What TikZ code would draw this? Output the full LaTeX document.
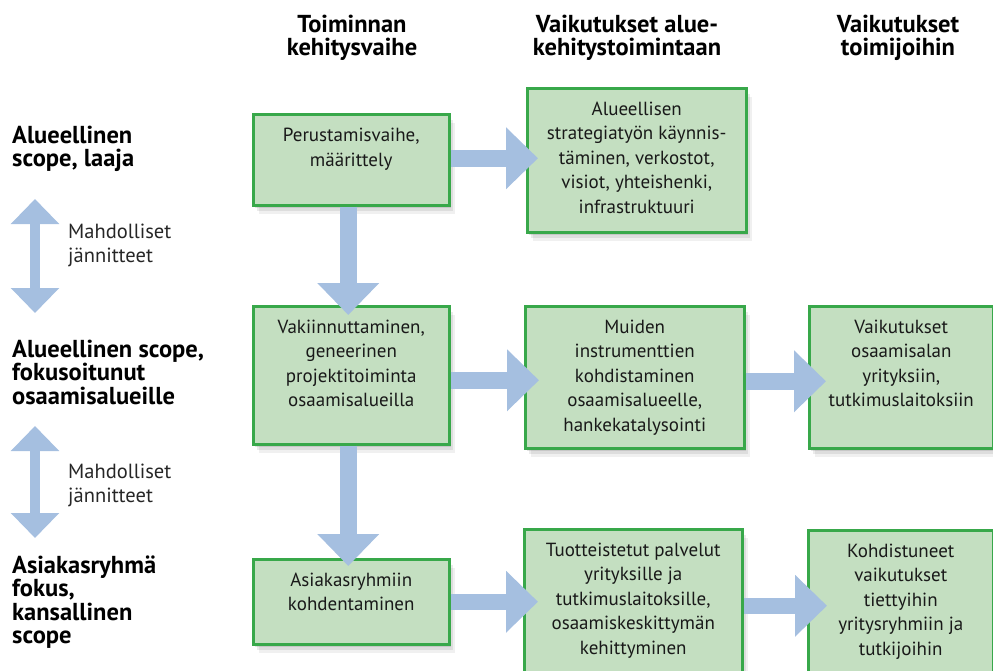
\documentclass[tikz,border=0pt]{standalone}
\usepackage{fontspec}
\setmainfont{PT Sans}
\usetikzlibrary{arrows.meta,calc,shadows}
\definecolor{boxfill}{RGB}{196,223,193}
\definecolor{boxline}{RGB}{56,168,74}
\definecolor{arrowblue}{RGB}{165,191,224}
\newcommand{\fbx}{\rule{0pt}{15.5pt}}
\newcommand{\fhd}{\rule{0pt}{21pt}}
\newcommand{\flb}{\rule{0pt}{20pt}}
\newcommand{\fmd}{\rule{0pt}{16pt}}
\tikzset{
  greenbox/.style={rectangle, draw=boxline, line width=2.5pt, fill=boxfill, inner sep=0pt, anchor=north west,
    drop shadow={opacity=0.10, fill=black, shadow xshift=2pt, shadow yshift=-3pt},
    drop shadow={opacity=0.08, fill=black, shadow xshift=4pt, shadow yshift=-6pt},
    drop shadow={opacity=0.06, fill=black, shadow xshift=6pt, shadow yshift=-9pt}},
  boxtext/.style={anchor=north, align=center, inner sep=0pt, text=black!90,
    font=\fontsize{19}{24.5}\selectfont},
  colheader/.style={anchor=north, align=center, inner sep=0pt,
    font=\fontsize{24.5}{23.5}\selectfont\bfseries},
  sidelabel/.style={anchor=north west, align=left, inner sep=0pt,
    font=\fontsize{24.5}{23.5}\selectfont\bfseries},
  tensionlbl/.style={anchor=north west, align=left, inner sep=0pt, text=black!85,
    font=\fontsize{20.5}{24}\selectfont},
  flowarrow/.style={draw=arrowblue, line width=16.5pt, line cap=butt,
    -{Triangle[width=60pt,length=32pt]}},
  twoway/.style={draw=arrowblue, line width=10pt, line cap=butt,
    {Triangle[width=47pt,length=25pt]}-{Triangle[width=47pt,length=25pt]}}
}
\begin{document}
\begin{tikzpicture}[x=1pt,y=-1pt]
\useasboundingbox (0,0) rectangle (993,670);
\clip (0,0) rectangle (993,670);

% column headers
\node[colheader] (h1) at (352,11) {\fhd Toiminnan\\kehitysvaihe};
\node[colheader] (h2) at (627,11) {\fhd Vaikutukset alue-\\kehitystoimintaan};
\node[colheader] (h3) at (898,11) {\fhd Vaikutukset\\toimijoihin};

% row labels
\node[sidelabel] (l1) at (12,123) {\flb Alueellinen\\scope, laaja};
\node[sidelabel] (l2) at (12,337) {\flb Alueellinen scope,\\fokusoitunut\\osaamisalueille};
\node[sidelabel] (l3) at (12,553) {\flb Asiakasryhmä\\fokus,\\kansallinen\\scope};

% tension arrows
\coordinate (t1a) at (35,199);
\coordinate (t1b) at (35,313);
\coordinate (t2a) at (35,426);
\coordinate (t2b) at (35,538);
\draw[twoway] (t1a) -- (t1b);
\draw[twoway] (t2a) -- (t2b);
\node[tensionlbl] (m1) at (68,222) {\fmd Mahdolliset\\jännitteet};
\node[tensionlbl] (m2) at (68,462) {\fmd Mahdolliset\\jännitteet};

% boxes
\node[greenbox, minimum width=196pt, minimum height=91pt]  (A) at (252,113) {};
\node[greenbox, minimum width=219pt, minimum height=144pt] (B) at (526,87) {};
\node[greenbox, minimum width=196pt, minimum height=138pt] (C) at (252,305) {};
\node[greenbox, minimum width=219pt, minimum height=142pt] (D) at (524,305) {};
\node[greenbox, minimum width=184pt, minimum height=142pt] (E) at (808,305) {};
\node[greenbox, minimum width=196pt, minimum height=85pt]  (F) at (252,558) {};
\node[greenbox, minimum width=218pt, minimum height=160pt] (G) at (523,528) {};
\node[greenbox, minimum width=185pt, minimum height=160pt] (H) at (807,529) {};

\node[boxtext] (At) at ($(A.north)+(0,13)$) {\fbx Perustamisvaihe,\\määrittely};
\node[boxtext] (Bt) at ($(B.north)+(0,12.5)$) {\fbx Alueellisen\\strategiatyön käynnis-\\täminen, verkostot,\\visiot, yhteishenki,\\infrastruktuuri};
\node[boxtext] (Ct) at ($(C.north)+(0,12.5)$) {\fbx Vakiinnuttaminen,\\geneerinen\\projektitoiminta\\osaamisalueilla};
\node[boxtext] (Dt) at ($(D.north)+(0,12.5)$) {\fbx Muiden\\instrumenttien\\kohdistaminen\\osaamisalueelle,\\hankekatalysointi};
\node[boxtext] (Et) at ($(E.north)+(0,12.5)$) {\fbx Vaikutukset\\osaamisalan\\yrityksiin,\\tutkimuslaitoksiin};
\node[boxtext] (Ft) at ($(F.north)+(0,12.5)$) {\fbx Asiakasryhmiin\\kohdentaminen};
\node[boxtext] (Gt) at ($(G.north)+(0,12.5)$) {\fbx Tuotteistetut palvelut\\yrityksille ja\\tutkimuslaitoksille,\\osaamiskeskittymän\\kehittyminen};
\node[boxtext] (Ht) at ($(H.north)+(0,12.5)$) {\fbx Kohdistuneet\\vaikutukset\\tiettyihin\\yritysryhmiin ja\\tutkijoihin};

% flow arrows
\draw[flowarrow] ($(A.east)+(0,-1.5)$) -- ($(B.west |- A.east)+(12,-1.5)$);
\draw[flowarrow] ($(C.east)+(0,5)$) -- ($(D.west |- C.east)+(15,5)$);
\draw[flowarrow] ($(D.east)+(0,4)$) -- ($(E.west |- D.east)+(18,4)$);
\draw[flowarrow] (F.east) -- ($(G.west |- F.east)+(15,0)$);
\draw[flowarrow] ($(G.east |- F.east)+(0,4)$) -- ($(H.west |- F.east)+(20,4)$);
\draw[flowarrow] ($(A.south)+(-3,0)$) -- ($(C.north)+(-3,10)$);
\draw[flowarrow] ($(C.south)+(-3,0)$) -- ($(F.north)+(-3,8)$);
\end{tikzpicture}
\end{document}
